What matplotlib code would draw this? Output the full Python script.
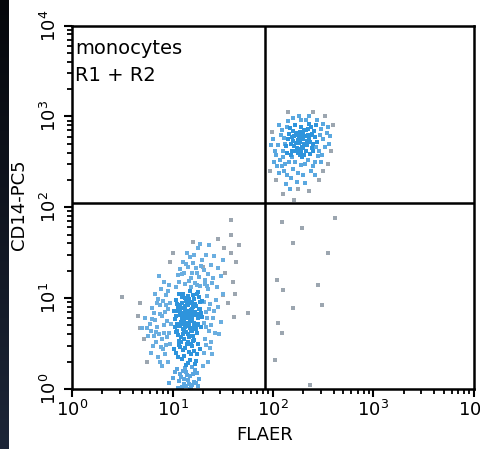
import numpy as np
import matplotlib
matplotlib.use("Agg")
import matplotlib.pyplot as plt
from matplotlib.colors import LinearSegmentedColormap

# ---- data (log10 values x100) ----
low_core = [(112,82),(118,75),(105,90),(121,68),(109,101),(126,88),(115,61),(102,77),(119,95),(111,55),(124,104),(107,70),(116,86),(129,79),(103,63),(113,97),(120,58),(108,84),(125,72),(117,108),(104,93),(122,81),(110,66),(127,96),(114,73),(106,105),(119,64),(101,86),(123,91),(115,52),(109,78),(128,68),(112,100),(118,87),(105,59),(121,99),(113,71),(107,92),(126,83),(116,57),(103,80),(120,103),(111,89),(124,62),(108,74),(117,96),(102,68),(125,107),(114,84),(106,53),(119,76),(122,94),(110,60),(127,88),(115,102),(104,72),(118,65),(112,91),(129,97),(107,81),(121,54),(116,79),(109,95),(124,70),(113,63),(105,86),(120,90),(111,76),(126,101),(117,67),(103,98),(122,85),(108,57),(114,93),(119,80),(106,69),(125,78),(110,104),(118,58),(112,87),(128,84),(104,64),(116,99),(121,73),(107,88),(123,66),(113,81),(109,71),(120,84),(115,92),(111,64),(117,75),(114,69),(119,88),(110,83),(116,72),(113,78),(118,82),(112,68),(115,86),
            (112,45),(118,38),(106,48),(121,42),(109,33),(125,50),(115,29),(103,40),(119,47),(111,36),(123,31),(108,52),(116,41),(127,44),(113,26),(105,35),(120,53),(110,43),(117,32),(124,38),(107,46),(114,50),(122,27),(101,44),(118,49)]
low_tail = [(110,20),(117,14),(104,22),(121,8),(113,3),(107,17),(119,24),(115,10),(100,12),(124,18),(111,5),(118,1),(106,9),(122,21),(114,15),(109,2),(126,11),(102,19),(116,6),(120,16),(108,13),(112,23),(97,7),(125,3),(105,1),(119,4),(113,19),(117,0),(111,11),(123,7)]
low_halo = [(88,82),(92,70),(85,95),(79,64),(94,103),(90,55),(83,76),(96,88),(75,67),(91,44),(87,60),(80,89),(95,75),(84,52),(89,110),(93,38),(78,72),(86,99),(97,62),(82,84),(70,67),(92,118),(88,30),(76,58),(94,92),(81,47),(90,80),(85,68),(98,50),(87,124),(93,85),(79,40),(96,108),(84,63),(91,97),(73,78),(89,46),(95,57),(83,105),(98,95),(86,35),(92,62),(99,71),(90,25),(82,58),(97,114),(94,48),(88,92),(80,77),(96,30),
            (133,85),(138,70),(131,96),(142,62),(135,110),(140,78),(132,55),(145,90),(137,45),(134,102),(148,74),(136,64),(139,117),(131,40),(143,98),(135,30),(141,86),(133,68),(150,105),(138,52),(132,115),(146,60),(134,78),(137,93),(130,25),(144,112),(139,38),(136,88),(133,48),(131,73),
            (112,115),(118,122),(106,118),(124,128),(115,134),(109,126),(127,113),(120,139),(103,112),(131,131),(117,145),(126,123),(110,140),(135,126),(122,117),(114,150),(129,142),(107,132),(138,137),(119,128),(125,155),(133,148),(116,119),(140,122),(111,128),(128,135),(121,147),(145,133),(136,158),(105,125),(132,120),(118,112),(141,146),(113,138),(124,114),(148,124),(127,160),(150,142),(134,113),(123,133)]
high_core = [(227,272),(232,268),(221,278),(236,275),(224,265),(230,281),(218,270),(240,270),(226,276),(233,262),(220,284),(238,280),(229,266),(215,275),(235,286),(223,271),(231,258),(242,277),(219,262),(228,288),(234,273),(225,260),(239,265),(216,281),(230,275),(222,290),(237,259),(227,283),(213,267),(241,284),(232,278),(218,257),(236,292),(224,279),(229,255),(244,272),(220,273),(233,285),(226,264),(238,288),(214,260),(231,270),(223,282),(240,262),(217,287),(228,261),(235,279),(221,267),(243,290),(226,271),(230,265),(225,274),(234,268),(228,279),(222,262),(237,272),(231,285),(219,277),(227,258),(239,281)]
high_halo = [(205,268),(210,255),(208,280),(202,262),(212,248),(206,290),(211,240),(200,275),(207,252),(214,235),(209,245),(203,258),(198,268),(213,226),(210,262),(216,250),(220,242),(218,232),(222,250),(225,238),(228,246),(232,248),(235,252),(240,245),(215,295),(220,298),(228,296),(236,300),(244,296),(248,286),(250,275),(252,266),(246,262),(248,250),(254,282),(256,270),(245,256),(250,292),(242,250),(238,240),(230,235),(224,228),(217,220),(232,227),(242,235),(212,270),(209,285),(204,245),(255,288),(257,278),(249,258),(226,300),(233,296),(214,288),(219,255),(247,280),(243,266),(211,276),(206,238),(201,250)]
stray = [(158,150),(163,140),(152,128),(160,118),(145,165),(120,162),(98,140),(68,95),(72,55),(66,80),(155,95),(162,105),(75,30),(100,150),(158,170),
         (158,186),(166,158),(175,84),(150,103),(161,79),(130,134),(151,155),(50,101),(68,67),
         (220,161),(255,150),(245,114),(249,92),(220,89),(205,73),(202,32),(229,177),(262,188),(209,184),(204,120),(209,62),(210,109),(237,4),
         (197,240),(203,230),(210,215),(225,220),(246,230),(258,262),(260,290),(252,300),(240,305),(215,305),(199,283),(236,218),(250,240),(221,208),(255,248)]

x_ticks = [1, 10, 100, 1000, 10000]
tick_labels = [r"$\mathregular{10^{0}}$", r"$\mathregular{10^{1}}$", r"$\mathregular{10^{2}}$",
               r"$\mathregular{10^{3}}$", r"$\mathregular{10^{4}}$"]
x_gate = 83
y_gate = 112
xlabel = "FLAER"
ylabel = "CD14-PC5"
annotation = "monocytes\nR1 + R2"

def to_xy(pairs):
    a = np.array(pairs, dtype=float)
    return 10 ** (a[:, 0] / 100), 10 ** (a[:, 1] / 100)

plt.rcParams['font.family'] = ['DejaVu Sans']

fig = plt.figure(figsize=(4.81, 4.49), dpi=100)
fig.patch.set_facecolor('white')

# dark strip at the left edge
strip = fig.add_axes([0, 0, 9/481, 1])
grad = np.linspace(0, 1, 256).reshape(-1, 1)
cm = LinearSegmentedColormap.from_list('s', ['#05070b', '#1d2638'])
strip.imshow(grad, aspect='auto', cmap=cm)
strip.axis('off')

ax = fig.add_axes([72/481, 1 - 389/449, 402/481, 363.5/449])
ax.set_xscale('log')
ax.set_yscale('log')
ax.set_xlim(1, 1e4)
ax.set_ylim(1, 1e4)

for pairs, col, s in [(stray, '#9ca6b0', 7), (low_halo, '#6aaee0', 8), (low_tail, '#5aa6e0', 8),
                      (low_core, '#2e94dc', 11), (high_halo, '#5aa8e0', 8), (high_core, '#2e94dc', 11)]:
    x, y = to_xy(pairs)
    ax.scatter(x, y, s=s, c=col, marker='s', linewidths=0)

ax.axvline(x_gate, color='black', lw=1.8)
ax.axhline(y_gate, color='black', lw=1.8)

for sp in ax.spines.values():
    sp.set_linewidth(1.8)

ax.set_xticks(x_ticks)
ax.set_xticklabels(tick_labels)
ax.set_yticks(x_ticks)
ax.set_yticklabels(tick_labels, rotation=90, va='center')
ax.tick_params(which='major', length=6, width=1.5, labelsize=13)
ax.tick_params(which='minor', length=3.5, width=1.3)
ax.tick_params(axis='x', pad=2)
ax.tick_params(axis='y', pad=3)
ax.xaxis.set_minor_locator(matplotlib.ticker.LogLocator(base=10, subs=np.arange(2, 10), numticks=20))
ax.yaxis.set_minor_locator(matplotlib.ticker.LogLocator(base=10, subs=np.arange(2, 10), numticks=20))
ax.xaxis.set_minor_formatter(matplotlib.ticker.NullFormatter())
ax.yaxis.set_minor_formatter(matplotlib.ticker.NullFormatter())

ax.set_xlabel(xlabel, fontsize=13)
ax.xaxis.set_label_coords((265 - 72) / 402, -(426 - 389) / 363.5)
ax.set_ylabel(ylabel, fontsize=13)
ax.yaxis.set_label_coords(-(72 - 28) / 402, (389 - 205) / 363.5)

ax.text(0.008, 0.962, annotation, transform=ax.transAxes, ha='left', va='top',
        fontsize=14, linespacing=1.5)

fig.savefig('out.png', dpi=100)
